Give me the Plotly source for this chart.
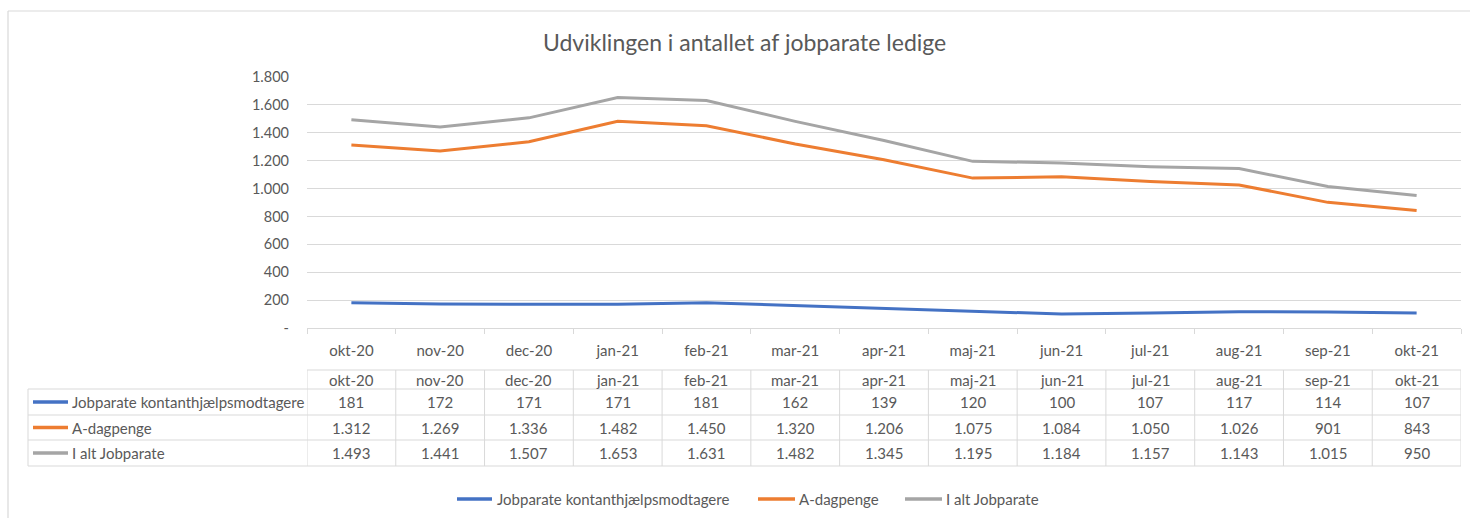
import plotly.graph_objects as go

months = ["okt-20", "nov-20", "dec-20", "jan-21", "feb-21", "mar-21", "apr-21",
          "maj-21", "jun-21", "jul-21", "aug-21", "sep-21", "okt-21"]
kontanthjaelp = [181, 172, 171, 171, 181, 162, 139, 120, 100, 107, 117, 114, 107]
dagpenge = [1312, 1269, 1336, 1482, 1450, 1320, 1206, 1075, 1084, 1050, 1026, 901, 843]
i_alt = [1493, 1441, 1507, 1653, 1631, 1482, 1345, 1195, 1184, 1157, 1143, 1015, 950]
series_names = ["Jobparate kontanthjælpsmodtagere", "A-dagpenge", "I alt Jobparate"]
series_colors = ["#4472C4", "#ED7D31", "#A5A5A5"]
y_ticks = [0, 200, 400, 600, 800, 1000, 1200, 1400, 1600, 1800]
title = "Udviklingen i antallet af jobparate ledige"

FONT = "Lato"
TXT = "#595959"
GRID = "#D9D9D9"
FS = 15

W, H = 1470, 518
L, R, T, B = 307, 1461, 77, 328


def dk(v):
    if v == 0:
        return "-"
    return f"{v:,}".replace(",", ".")


def px(x):
    return (x - L) / (R - L)


def py(y):
    return (B - y) / (B - T)


def txt(x, y, s, xref="paper", xanchor="center", size=FS):
    return dict(x=x, y=y, xref=xref, yref="paper", text=s, showarrow=False,
                xanchor=xanchor, yanchor="middle",
                font=dict(family=FONT, size=size, color=TXT))


series = [kontanthjaelp, dagpenge, i_alt]
fig = go.Figure()
for name, vals, col in zip(series_names, series, series_colors):
    fig.add_trace(go.Scatter(x=months, y=vals, name=name, mode="lines",
                             line=dict(color=col, width=3)))

shapes = []
ann = []
# outer chart border (top, left)
shapes.append(dict(type="line", xref="paper", yref="paper", x0=px(8), x1=px(1475),
                   y0=py(11), y1=py(11), line=dict(color=GRID, width=1.2)))
shapes.append(dict(type="line", xref="paper", yref="paper", x0=px(8), x1=px(8),
                   y0=py(11), y1=py(525), line=dict(color=GRID, width=1.2)))

# data table
hdr_top, r1, r2, r3, bot = 370, 389, 415, 440, 466
lab_left = 28
line_st = dict(color=GRID, width=1)
shapes.append(dict(type="line", xref="paper", yref="paper", x0=px(L), x1=px(R),
                   y0=py(hdr_top), y1=py(hdr_top), line=line_st))
for yy in (r1, r2, r3, bot):
    shapes.append(dict(type="line", xref="paper", yref="paper", x0=px(lab_left), x1=px(R),
                       y0=py(yy), y1=py(yy), line=line_st))
shapes.append(dict(type="line", xref="paper", yref="paper", x0=px(lab_left), x1=px(lab_left),
                   y0=py(r1), y1=py(bot), line=line_st))
for i in range(len(months) + 1):
    shapes.append(dict(type="line", xref="x", yref="paper", x0=i - 0.5, x1=i - 0.5,
                       y0=py(hdr_top), y1=py(bot), line=line_st))

for i, m in enumerate(months):
    ann.append(txt(i, py((hdr_top + r1) / 2), m, xref="x"))

row_tops = [r1, r2, r3]
row_bots = [r2, r3, bot]
for name, vals, col, t0, t1 in zip(series_names, series, series_colors, row_tops, row_bots):
    yc = py((t0 + t1) / 2)
    shapes.append(dict(type="line", xref="paper", yref="paper", x0=px(33), x1=px(68),
                       y0=yc, y1=yc, line=dict(color=col, width=3.5)))
    ann.append(txt(px(70), yc, name, xanchor="left"))
    for i, v in enumerate(vals):
        ann.append(txt(i, yc, dk(v), xref="x"))

# title
ann.append(txt(px(744), py(42), title, size=23))

# bottom legend
leg_y = py(499)
leg_items = [(457, 492, 495), (758, 795, 797), (905, 942, 944)]
for (a, b_, t), name, col in zip(leg_items, series_names, series_colors):
    shapes.append(dict(type="line", xref="paper", yref="paper", x0=px(a), x1=px(b_),
                       y0=leg_y, y1=leg_y, line=dict(color=col, width=3.5)))
    ann.append(txt(px(t), leg_y, name, xanchor="left"))

fig.update_layout(
    width=W, height=H,
    margin=dict(l=L, r=W - R, t=T, b=H - B, pad=0),
    paper_bgcolor="white", plot_bgcolor="white",
    font=dict(family=FONT, size=FS, color=TXT),
    shapes=shapes, annotations=ann,
    showlegend=False,
    xaxis=dict(type="category", range=[-0.5, len(months) - 0.5], showline=True,
               linecolor=GRID, linewidth=1, ticks="outside", tickson="boundaries",
               ticklen=5, tickcolor=GRID, showgrid=False, zeroline=False,
               tickfont=dict(family=FONT, size=FS, color=TXT), ticklabelstandoff=9),
    yaxis=dict(range=[0, 1800], tickvals=y_ticks, ticktext=[dk(v) for v in y_ticks],
               showgrid=True, gridcolor=GRID, gridwidth=1, zeroline=False, showline=False,
               tickfont=dict(family=FONT, size=14.5, color=TXT), ticklabelstandoff=17),
)

fig.write_html("out.html", config={"displayModeBar": False},
               post_script="document.body.style.margin='0';")
